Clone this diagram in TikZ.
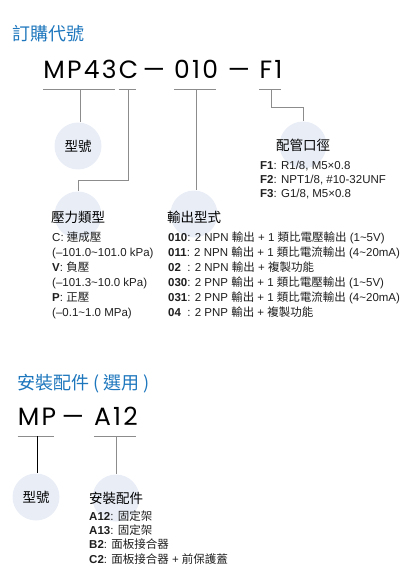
\documentclass[tikz,border=0pt]{standalone}
\usepackage{fontspec}
\setmainfont{Liberation Sans}
\newfontfamily\zhfont{Noto Sans CJK TC}
\newfontfamily\codefont{Poppins}[LetterSpace=9]
\newcommand{\zh}[1]{{\zhfont #1}}
\newcommand{\tld}{\textasciitilde}
\definecolor{titleblue}{RGB}{30,119,189}
\definecolor{bubblefill}{RGB}{232,237,246}
\definecolor{linegray}{RGB}{140,140,140}
\tikzset{
  heading/.style={anchor=base west, inner sep=0pt, text=titleblue, font=\zhfont\fontsize{18}{18}\selectfont},
  code/.style={anchor=south, inner xsep=0pt, inner ysep=10.5pt, text depth=0pt, font=\codefont\fontsize{25}{25}\selectfont},
  uline/.style={linegray, line width=0.8pt, shorten >=2pt},
  link/.style={linegray, line width=0.8pt},
  bubble/.style={circle, fill=bubblefill, minimum size=47pt, inner sep=0pt},
  bubblelbl/.style={inner sep=0pt, font=\zhfont\fontsize{13.5}{13.5}\selectfont},
  list/.style={anchor=base west, align=left, inner sep=0pt, text=black!88, font=\fontsize{11.5}{15}\selectfont},
}
\begin{document}
\begin{tikzpicture}[x=1pt, y=-1pt]
        \useasboundingbox (0,0) rectangle (406,572);

        % order code
        \node[heading] (title1) at (12,41) {訂購代號};
        \node[code] (mp43) at (80,89.5) {MP43};
        \node[code] (c) at (128.5,89.5) {C};
        \node[code] (d1) at (154,89.5) {\textemdash};
        \node[code] (n010) at (196,89.5) {010};
        \node[code] (d2) at (239,89.5) {\textemdash};
        \node[code] (f1) at (271,89.5) {F1};
        \draw[uline] (mp43.south west) -- (mp43.south east);
        \draw[uline] (c.south west) -- (c.south east);
        \draw[uline] (n010.south west) -- (n010.south east);
        \draw[uline] (f1.south west) -- (f1.south east);

        \node[bubble] (ptype) at (78,146) {};
        \node[bubble] (port) at (303,145) {};
        \node[bubble] (press) at (78,215) {};
        \node[bubble] (output) at (194,214) {};
        \node[bubblelbl] (ptypelbl) at (ptype) {型號};
        \node[bubblelbl] (portlbl) at (port) {配管口徑};
        \node[bubblelbl] (presslbl) at ([yshift=-2pt]press) {壓力類型};
        \node[bubblelbl] (outputlbl) at ([yshift=-3pt]output) {輸出型式};

        \coordinate (presselbow) at (0,180);
        \coordinate (portelbow) at (0,107);
        \draw[link] (mp43.south) -- (mp43.south |- ptype.north);
        \draw[link] (c.south) -- (c.south |- presselbow) -| (press.north);
        \draw[link] (n010.south) -- (n010.south |- output.north);
        \draw[link] (f1.south) -- (f1.south |- portelbow) -| (port.north);

        % lists, placed by the baseline of their last line
        \node[list, font=\fontsize{11.5}{14}\selectfont] (portlist) at (260,197)
            {\textbf{F1}: R1/8, M5×0.8\\
             \textbf{F2}: NPT1/8, \#10-32UNF\\
             \textbf{F3}: G1/8, M5×0.8};
        \node[list] (presslist) at (52,316)
            {C: \zh{連成壓}\\
             (–101.0\tld101.0 kPa)\\
             \textbf{V}: \zh{負壓}\\
             (–101.3\tld10.0 kPa)\\
             \textbf{P}: \zh{正壓}\\
             (–0.1\tld1.0 MPa)};
        \node[list] (outputlist) at (168,316)
            {\textbf{010}: 2 NPN \zh{輸出} + 1 \zh{類比電壓輸出} (1\tld5V)\\
             \textbf{011}: 2 NPN \zh{輸出} + 1 \zh{類比電流輸出} (4\tld20mA)\\
             \textbf{02}\phantom{\textbf{0}}: 2 NPN \zh{輸出} + \zh{複製功能}\\
             \textbf{030}: 2 PNP \zh{輸出} + 1 \zh{類比電壓輸出} (1\tld5V)\\
             \textbf{031}: 2 PNP \zh{輸出} + 1 \zh{類比電流輸出} (4\tld20mA)\\
             \textbf{04}\phantom{\textbf{0}}: 2 PNP \zh{輸出} + \zh{複製功能}};

        % mounting accessories
        \node[heading] (title2) at (17,389) {安裝配件 ( 選用 )};
        \node[code] (mp) at (37,436) {MP};
        \node[code] (d3) at (73,436) {\textemdash};
        \node[code] (a12) at (116,436) {A12};
        \draw[uline] (mp.south west) -- (mp.south east);
        \draw[uline] (a12.south west) -- (a12.south east);

        \node[bubble] (mtype) at (36,497) {};
        \node[bubble] (mount) at (116,498) {};
        \node[bubblelbl] (mtypelbl) at (mtype) {型號};
        \node[bubblelbl] (mountlbl) at (mount) {安裝配件};
        \draw[link, black] (mp.south) -- (mp.south |- mtype.north);
        \draw[link] (a12.south) -- (a12.south |- mount.north);

        \node[list, font=\fontsize{11.5}{14.3}\selectfont] (mountlist) at (89,563)
            {\textbf{A12}: \zh{固定架}\\
             \textbf{A13}: \zh{固定架}\\
             \textbf{B2}: \zh{面板接合器}\\
             \textbf{C2}: \zh{面板接合器} + \zh{前保護蓋}};
    \end{tikzpicture}
\end{document}
